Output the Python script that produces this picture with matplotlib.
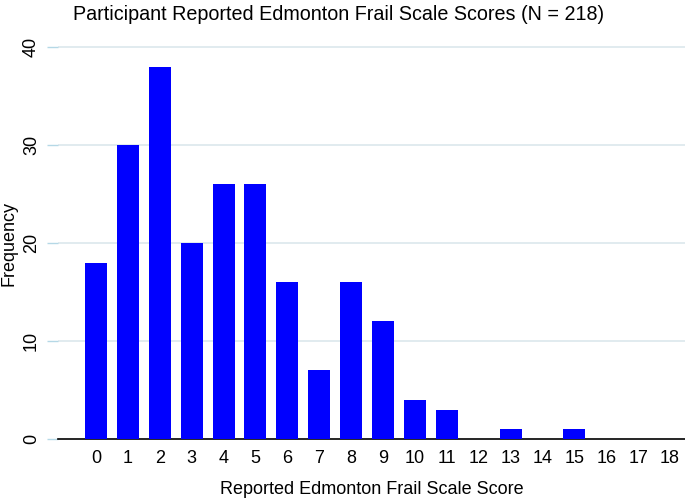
import matplotlib
matplotlib.use("Agg")
import matplotlib.pyplot as plt

plt.rcParams['font.family'] = ['Liberation Sans', 'DejaVu Sans']

scores = list(range(0, 19))
freqs = [18, 30, 38, 20, 26, 26, 16, 7, 16, 12, 4, 3, 0, 1, 0, 1, 0, 0, 0]
yticks = [0, 10, 20, 30, 40]

W, H = 685, 498
fig = plt.figure(figsize=(W/100, H/100), dpi=100)
ax = fig.add_axes([58/W, 1-439/H, (685-58)/W, (439-40)/H])

ax.bar(scores, freqs, width=0.69, color='#0000FF', zorder=3)
ax.set_xlim(-1.19, 18.47)
ax.set_ylim(0, 40*(439-40)/(439-47))

ax.set_yticks(yticks)
ax.set_yticklabels([str(t) for t in yticks], rotation=90, va='center', fontsize=13)
ax.set_xticks(scores)
ax.set_xticklabels([str(s) for s in scores], fontsize=13)
ax.tick_params(axis='x', length=0, pad=8)
ax.tick_params(axis='y', length=8, color='#B5D8E6', width=1, pad=5)

for t in yticks[1:]:
    ax.axhline(t, color='#DCE7EC', lw=1.2, zorder=1)

for s in ['top', 'right', 'left']:
    ax.spines[s].set_visible(False)
ax.spines['bottom'].set_color('black')
ax.spines['bottom'].set_linewidth(1.2)

ax.set_xlabel('Reported Edmonton Frail Scale Score', fontsize=13, labelpad=10)
fig.text(9/W, 1-243/H, 'Frequency', rotation=90, ha='center', va='center', fontsize=13)
fig.text(339/W, 1-15/H, 'Participant Reported Edmonton Frail Scale Scores (N = 218)',
         ha='center', va='center', fontsize=14.2)

fig.savefig('out.png', dpi=100)
